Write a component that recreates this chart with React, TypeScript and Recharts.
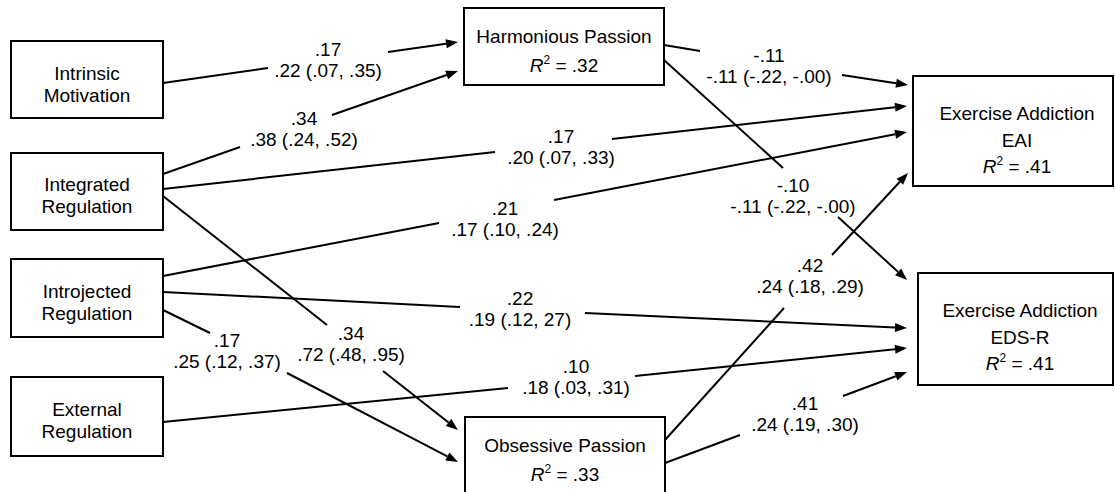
import React from 'react'
import { ScatterChart, Scatter, XAxis, YAxis, ReferenceArea, ReferenceLine } from 'recharts'

// variables of the path model
const nodeIds = ['IM', 'IR', 'INJ', 'ER', 'HP', 'OP', 'EAI', 'EDS']
const nodeLabels = [
  ['Intrinsic', 'Motivation'],
  ['Integrated', 'Regulation'],
  ['Introjected', 'Regulation'],
  ['External', 'Regulation'],
  ['Harmonious Passion'],
  ['Obsessive Passion'],
  ['Exercise Addiction', 'EAI'],
  ['Exercise Addiction', 'EDS-R'],
]
const nodeR2 = ['', '', '', '', '.32', '.33', '.41', '.41']

// paths: standardized estimate, then estimate (95% CI)
const pathFrom = ['IM', 'IR', 'IR', 'IR', 'INJ', 'INJ', 'INJ', 'ER', 'HP', 'HP', 'OP', 'OP']
const pathTo = ['HP', 'HP', 'EAI', 'OP', 'EAI', 'EDS', 'OP', 'EDS', 'EAI', 'EDS', 'EAI', 'EDS']
const pathStd = ['.17', '.34', '.17', '.34', '.21', '.22', '.17', '.10', '-.11', '-.10', '.42', '.41']
const pathEst = [
  '.22 (.07, .35)', '.38 (.24, .52)', '.20 (.07, .33)', '.72 (.48, .95)',
  '.17 (.10, .24)', '.19 (.12, 27)', '.25 (.12, .37)', '.18 (.03, .31)',
  '-.11 (-.22, -.00)', '-.11 (-.22, -.00)', '.24 (.18, .29)', '.24 (.19, .30)',
]

// ---- layout (diagram units) ----
const W = 1115
const H = 492
const FONT = '"Liberation Sans", Arial, Helvetica, sans-serif'

// [left, top, right, bottom]
const boxRect: Record<string, number[]> = {
  IM: [11, 41, 163, 118],
  IR: [11, 153, 163, 230],
  INJ: [11, 259, 163, 337],
  ER: [11, 377, 163, 456],
  HP: [464, 8, 664, 85],
  OP: [465, 417, 665, 496],
  EAI: [913, 76, 1113, 186],
  EDS: [918, 273, 1113, 385],
}
// [centre x, first baseline, line gap]
const boxText: Record<string, number[]> = {
  IM: [87, 80, 22],
  IR: [87, 191, 22],
  INJ: [87, 298, 22],
  ER: [87, 416, 22],
  HP: [564, 43, 29],
  OP: [565, 452, 29],
  EAI: [1017, 120, 26.5],
  EDS: [1020, 317, 26.5],
}
// start, end of first stroke, start of second stroke, arrow tip
const pathGeom = [
  [163, 83, 268, 68, 388, 52, 458, 42],
  [163, 174, 240, 147, 332, 115, 458, 71],
  [163, 189, 495, 152, 612, 139, 907, 106],
  [163, 196, 327, 325, 383, 371, 458, 430],
  [163, 276, 439, 223, 554, 200, 907, 132],
  [163, 292, 460, 307, 585, 313, 907, 328],
  [163, 310, 210, 333, 287, 373, 458, 462],
  [163, 422, 508, 388, 635, 376, 907, 348],
  [664, 45, 700, 51, 842, 75, 908, 85],
  [664, 60, 783, 168, 838, 217, 907, 280],
  [665, 440, 784, 308, 832, 255, 908, 173],
  [665, 463, 740, 435, 843, 396, 907, 372],
]
// centre x, first baseline of the two-line label
const pathLabel = [
  [328, 56], [304, 125], [561, 143], [351, 340], [505, 215], [520, 305],
  [227, 347], [576, 373], [769, 62], [793, 192], [810, 272], [805, 410],
]

const nodeData = nodeIds.map((id, i) => ({
  x: boxText[id][0],
  y: boxText[id][1],
  gap: boxText[id][2],
  lines: nodeLabels[i],
  r2: nodeR2[i],
}))

const labelData = pathStd.map((s, i) => ({
  x: pathLabel[i][0],
  y: pathLabel[i][1],
  std: s,
  est: pathEst[i],
  name: pathFrom[i] + '-' + pathTo[i],
}))

const NodeText = (props: any) => {
  const { cx, cy, payload } = props
  const n = payload.lines.length
  return (
    <text textAnchor="middle" fontFamily={FONT} fontSize={19} fill="#000">
      {payload.lines.map((t: string, i: number) => (
        <tspan key={i} x={cx} y={cy + i * payload.gap}>{t}</tspan>
      ))}
      {payload.r2 ? (
        <>
          <tspan x={cx} y={cy + n * payload.gap} fontStyle="italic">R</tspan>
          <tspan dy={-8} fontSize={12}>2</tspan>
          <tspan dy={8}>{' = ' + payload.r2}</tspan>
        </>
      ) : null}
    </text>
  )
}

const PathText = (props: any) => {
  const { cx, cy, payload } = props
  return (
    <text textAnchor="middle" fontFamily={FONT} fontSize={19} fill="#000">
      <tspan x={cx} y={cy}>{payload.std}</tspan>
      <tspan x={cx} y={cy + 21}>{payload.est}</tspan>
    </text>
  )
}

const plainLine = (p: any) => (
  <line x1={p.x1} y1={p.y1} x2={p.x2} y2={p.y2} stroke="#000" strokeWidth={2} />
)

const arrowLine = (p: any) => {
  const x1 = Number(p.x1), y1 = Number(p.y1), x2 = Number(p.x2), y2 = Number(p.y2)
  const len = Math.hypot(x2 - x1, y2 - y1) || 1
  const ux = (x2 - x1) / len
  const uy = (y2 - y1) / len
  const bx = x2 - ux * 12
  const by = y2 - uy * 12
  return (
    <g>
      <line x1={x1} y1={y1} x2={bx} y2={by} stroke="#000" strokeWidth={2} />
      <polygon
        points={`${x2},${y2} ${bx - uy * 4.5},${by + ux * 4.5} ${bx + uy * 4.5},${by - ux * 4.5}`}
        fill="#000"
      />
    </g>
  )
}

export default function App() {
  return (
    <div style={{ position: 'absolute', left: 0, top: 0, width: W, height: H, background: '#fff' }}>
      <ScatterChart width={W} height={H} margin={{ top: 0, right: 0, bottom: 0, left: 0 }}>
        <XAxis type="number" dataKey="x" domain={[0, W]} hide />
        <YAxis type="number" dataKey="y" domain={[0, H]} reversed hide />
        {nodeIds.map((id) => {
          const r = boxRect[id]
          return (
            <ReferenceArea
              key={id}
              x1={r[0]}
              x2={r[2]}
              y1={r[1]}
              y2={r[3]}
              fill="#fff"
              fillOpacity={1}
              stroke="#000"
              strokeWidth={2}
              ifOverflow="visible"
            />
          )
        })}
        {pathGeom.map((g, i) => (
          <ReferenceLine
            key={'a' + i}
            segment={[{ x: g[0], y: g[1] }, { x: g[2], y: g[3] }]}
            ifOverflow="visible"
            shape={plainLine}
          />
        ))}
        {pathGeom.map((g, i) => (
          <ReferenceLine
            key={'b' + i}
            segment={[{ x: g[4], y: g[5] }, { x: g[6], y: g[7] }]}
            ifOverflow="visible"
            shape={arrowLine}
          />
        ))}
        <Scatter data={nodeData} shape={NodeText} isAnimationActive={false} />
        <Scatter data={labelData} shape={PathText} isAnimationActive={false} />
      </ScatterChart>
    </div>
  )
}
